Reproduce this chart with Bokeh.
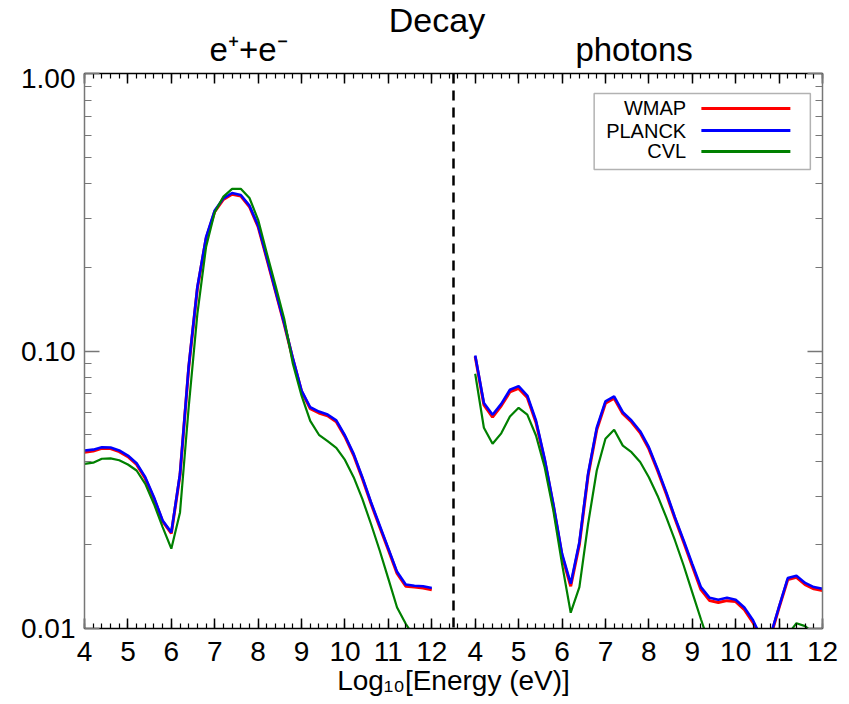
from bokeh.plotting import figure
from bokeh.layouts import column
from bokeh.models import (Range1d, FixedTicker, LinearAxis, LogAxis, Span, Label,
                          BoxAnnotation, CustomJSTickFormatter, PrintfTickFormatter,
                          ColumnDataSource)
from bokeh.core.properties import value
from bokeh.embed import file_html
from bokeh.resources import INLINE
import numpy as np

# ---------------- data ----------------
energy = [4.0, 4.2, 4.4, 4.6, 4.8, 5.0, 5.2, 5.4, 5.6, 5.8,
          6.0, 6.2, 6.4, 6.6, 6.8, 7.0, 7.2, 7.4, 7.6, 7.8,
          8.0, 8.2, 8.4, 8.6, 8.8, 9.0, 9.2, 9.4, 9.6, 9.8,
          10.0, 10.2, 10.4, 10.6, 10.8, 11.0, 11.2, 11.4, 11.6, 11.8, 12.0]

ee_wmap = [0.0432, 0.0436, 0.0446, 0.0445, 0.0434, 0.0416, 0.0390, 0.0347, 0.0294, 0.0243,
           0.0220, 0.0357, 0.0870, 0.168, 0.254, 0.318, 0.352, 0.367, 0.362, 0.331,
           0.280, 0.215, 0.164, 0.125, 0.0935, 0.0715, 0.0620, 0.0598, 0.0584, 0.0556,
           0.0491, 0.0421, 0.0347, 0.0282, 0.0232, 0.0192, 0.0158, 0.0142, 0.0141, 0.0140, 0.0138]
ee_planck = [0.0438, 0.0441, 0.0450, 0.0449, 0.0438, 0.0420, 0.0394, 0.0351, 0.0297, 0.0245,
             0.0222, 0.0361, 0.0880, 0.170, 0.257, 0.321, 0.355, 0.371, 0.365, 0.334,
             0.283, 0.217, 0.165, 0.126, 0.094, 0.072, 0.0627, 0.0605, 0.0590, 0.0562,
             0.0496, 0.0426, 0.0351, 0.0285, 0.0235, 0.0194, 0.0160, 0.0144, 0.01425, 0.0142, 0.0140]
ee_cvl = [0.0392, 0.0396, 0.0409, 0.0410, 0.0404, 0.0390, 0.0371, 0.0332, 0.0281, 0.0232,
          0.0194, 0.0262, 0.0627, 0.136, 0.237, 0.316, 0.360, 0.384, 0.384, 0.356,
          0.297, 0.225, 0.172, 0.1306, 0.090, 0.069, 0.056, 0.0499, 0.0473, 0.0448,
          0.0405, 0.0351, 0.0293, 0.0238, 0.0191, 0.0151, 0.0119, 0.0104, 0.0093, 0.0086, 0.0080]

ph_wmap = [0.0955, 0.0640, 0.0578, 0.0635, 0.0712, 0.0733, 0.0680, 0.0553, 0.0403, 0.0277,
           0.0183, 0.0142, 0.0201, 0.0355, 0.0520, 0.0648, 0.0676, 0.0594, 0.0555, 0.0507,
           0.0444, 0.0371, 0.0306, 0.0249, 0.0205, 0.0168, 0.0138, 0.0126, 0.0124, 0.0126,
           0.0125, 0.0117, 0.0105, 0.0091, 0.0093, 0.0119, 0.0150, 0.0153, 0.0144, 0.0139, 0.0137]
ph_planck = [0.0963, 0.0650, 0.0589, 0.0645, 0.0725, 0.0747, 0.0691, 0.0562, 0.0409, 0.0281,
             0.0186, 0.0145, 0.0205, 0.0361, 0.0529, 0.0658, 0.0686, 0.0602, 0.0562, 0.0514,
             0.0450, 0.0376, 0.0310, 0.0252, 0.0208, 0.0171, 0.0141, 0.0129, 0.0127, 0.0129,
             0.0127, 0.0119, 0.0107, 0.0092, 0.0094, 0.0120, 0.0152, 0.0155, 0.0146, 0.0141, 0.0139]
ph_cvl = [0.0828, 0.0529, 0.0463, 0.0505, 0.0581, 0.0624, 0.0590, 0.0496, 0.0381, 0.0266,
          0.0171, 0.0114, 0.0141, 0.0238, 0.0371, 0.0483, 0.0520, 0.0456, 0.0432, 0.0398,
          0.0351, 0.0301, 0.0252, 0.0208, 0.0169, 0.0135, 0.0108, 0.0087, 0.0076, 0.0072,
          0.0070, 0.0066, 0.0061, 0.0058, 0.0062, 0.0080, 0.0095, 0.01045, 0.0102, 0.0096, 0.0090]

series_names = ["WMAP", "PLANCK", "CVL"]
series_colors = ["#ff0000", "#0000ff", "#008000"]
series_widths = [3.0, 2.6, 2.2]
panel_titles = ["e\u207a+e\u207b", "photons"]
main_title = "Decay"
x_axis_title = "Log\u2081\u2080[Energy (eV)]"
x_tick_energies = [4, 5, 6, 7, 8, 9, 10, 11, 12]
y_tick_values = [0.01, 0.1, 1.0]

# ---------------- layout constants ----------------
PHOTON_OFFSET = 9.0          # photon panel starts one unit after the e+e- panel
SPLIT = 12.5                 # dashed separator between panels
FONT = "Liberation Sans, Arial, Helvetica, sans-serif"
GRAY = "#777777"
HEADER_H = 68
TOP_GAP = 5

x_range = Range1d(4, 12 + PHOTON_OFFSET)

# ---------------- header (titles), y measured in pixels from the top ----------------
hdr = figure(width=849, height=HEADER_H, x_range=x_range, y_range=Range1d(HEADER_H, 0),
             x_axis_type=None, y_axis_type=None, output_backend="svg", toolbar_location=None,
             title_location=None,
             min_border_left=84, min_border_right=27, min_border_top=0, min_border_bottom=0)
hdr.outline_line_color = None
hdr.xgrid.visible = False
hdr.ygrid.visible = False
hdr.text(x=[12.12], y=[19.5], text=[main_title], text_align="center", text_baseline="middle",
         text_font=value(FONT), text_font_size="34px", text_color="black")
hdr.text(x=[7.78, 16.66], y=[48.5, 48.5], text=panel_titles, text_align="center",
         text_baseline="middle", text_font=value(FONT), text_font_size="33px",
         text_color="black")

# ---------------- main plot ----------------
p = figure(width=849, height=704 - HEADER_H, y_axis_type="log",
           x_range=x_range, y_range=Range1d(0.01, 1.0),
           output_backend="svg", toolbar_location=None,
           min_border_left=84, min_border_right=27, min_border_top=TOP_GAP, min_border_bottom=76)
p.outline_line_color = None
p.xgrid.visible = False
p.ygrid.visible = False

ee_sets = [ee_wmap, ee_planck, ee_cvl]
ph_sets = [ph_wmap, ph_planck, ph_cvl]
x_ph = [e + PHOTON_OFFSET for e in energy]
for vals_ee, vals_ph, c, w in zip(ee_sets, ph_sets, series_colors, series_widths):
    p.line(x=energy, y=vals_ee, line_color=c, line_width=w)
    p.line(x=x_ph, y=vals_ph, line_color=c, line_width=w)

p.add_layout(Span(location=SPLIT, dimension="height", line_color="black",
                  line_width=2.5, line_dash="10 7"))

# ---------------- axes ----------------
x_major = [float(t) for t in x_tick_energies] + [t + PHOTON_OFFSET for t in x_tick_energies]
x_minor = [round(v, 2) for v in np.arange(4.0, 21.0001, 0.2)]
x_ticker = FixedTicker(ticks=x_major, minor_ticks=x_minor)
y_minor = [k * 0.01 for k in range(2, 10)] + [k * 0.1 for k in range(2, 10)]
y_ticker = FixedTicker(ticks=y_tick_values, minor_ticks=y_minor)

xfmt = CustomJSTickFormatter(args=dict(off=PHOTON_OFFSET, split=SPLIT),
                             code="const e = tick > split ? tick - off : tick; return String(Math.round(e));")
blank = CustomJSTickFormatter(code="return '';")

xa = p.xaxis[0]
xa.ticker = x_ticker
xa.formatter = xfmt
xa.axis_label = x_axis_title
ya = p.yaxis[0]
ya.ticker = y_ticker
ya.formatter = PrintfTickFormatter(format="%.2f")

top = LinearAxis(ticker=x_ticker, formatter=blank)
right = LogAxis(ticker=y_ticker, formatter=blank)
p.add_layout(top, "above")
p.add_layout(right, "right")

for ax in [xa, top]:
    ax.axis_line_color = "black"
    ax.major_tick_line_color = "black"
    ax.minor_tick_line_color = "black"
    ax.major_tick_in = 10
    ax.major_tick_out = 0
    ax.minor_tick_in = 5
    ax.minor_tick_out = 0
for ax in [ya, right]:
    ax.axis_line_color = GRAY
    ax.major_tick_line_color = GRAY
    ax.minor_tick_line_color = GRAY
    ax.major_tick_in = 15
    ax.major_tick_out = 0
    ax.minor_tick_in = 7
    ax.minor_tick_out = 0
for ax in [xa, top, ya, right]:
    ax.axis_line_width = 1.5
    ax.major_tick_line_width = 1.5
    ax.minor_tick_line_width = 1.2
    ax.major_label_text_font = FONT
    ax.major_label_text_color = "black"
    ax.axis_label_text_font = FONT
    ax.axis_label_text_font_style = "normal"
    ax.axis_label_text_color = "black"
for ax in [top, right]:
    ax.major_label_text_font_size = "0px"
    ax.major_label_standoff = 0
xa.major_label_text_font_size = "28px"
xa.major_label_standoff = 13
xa.axis_label_text_font_size = "28px"
xa.axis_label_standoff = 1
ya.major_label_text_font_size = "28px"
ya.major_label_standoff = 9

# ---------------- legend (label left, swatch right, boxed) ----------------
box = BoxAnnotation(left=15.74, right=20.72, bottom=0.451, top=0.847,
                    fill_color="white", fill_alpha=1.0, line_color="black",
                    line_width=1.5, level="underlay")
p.add_layout(box)
leg_y = [0.748, 0.623, 0.5236]
leg_src = ColumnDataSource(dict(x0=[18.21] * 3, x1=[20.26] * 3, y=leg_y, c=series_colors))
p.segment(x0="x0", x1="x1", y0="y", y1="y", line_color="c", line_width=3, source=leg_src)
for yy, name in zip(leg_y, series_names):
    p.add_layout(Label(x=17.86, y=yy, text=name, text_align="right", text_baseline="middle",
                       text_font=FONT, text_font_size="20px", text_color="black"))

layout = column(hdr, p, spacing=0)
open("out.html", "w").write(file_html(layout, INLINE))
